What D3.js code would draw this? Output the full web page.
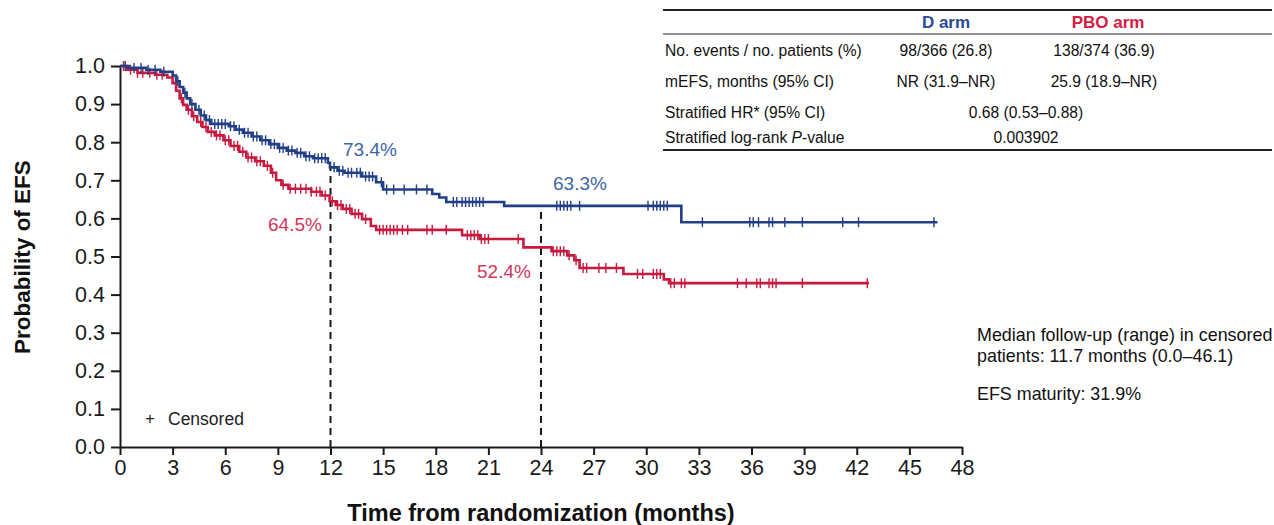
<!DOCTYPE html>
<html><head><meta charset="utf-8">
<script src="https://cdn.jsdelivr.net/npm/d3@7"></script>
<style>
html,body{margin:0;padding:0;background:#fff;}
text{font-family:"Liberation Sans",Arial,Helvetica,sans-serif;}
</style></head>
<body><svg id="c" width="1274" height="525"></svg>
<script>
// ---------- data ----------
const xTickValues = [0,3,6,9,12,15,18,21,24,27,30,33,36,39,42,45,48];
const yTickValues = [0,0.1,0.2,0.3,0.4,0.5,0.6,0.7,0.8,0.9,1.0];

// D arm: [time (months), survival after step]
const dSteps = [[0,1.0],[0.5,0.995],[1.5,0.99],[2.3,0.985],[3.0,0.975],[3.2,0.96],[3.4,0.945],[3.6,0.93],[3.8,0.915],
  [4.0,0.90],[4.3,0.885],[4.6,0.87],[4.9,0.858],[5.2,0.848],[6.2,0.842],[6.6,0.833],[7.0,0.825],[7.5,0.815],[8.0,0.805],
  [8.5,0.795],[9.0,0.785],[9.5,0.778],[10.0,0.772],[10.5,0.763],[11.0,0.758],[11.85,0.746],[11.97,0.734],[12.4,0.725],
  [12.8,0.72],[13.8,0.71],[14.6,0.695],[15.0,0.676],[17.8,0.664],[18.2,0.655],[18.6,0.643],[21.9,0.633],[32.0,0.59]];
const dEnd = 46.6;
const dCensor = [0.3,0.8,1.2,1.6,2.0,2.5,3.3,3.7,4.1,4.5,4.8,5.1,5.4,5.6,5.8,6.0,6.3,6.5,6.8,7.1,7.3,7.6,7.8,8.1,8.3,
  8.6,8.8,9.1,9.3,9.6,9.8,10.1,10.3,10.6,10.8,11.1,11.3,11.5,11.7,12.2,12.5,12.7,13.0,13.2,13.5,13.7,14.0,14.2,14.4,
  14.9,15.2,15.6,16.2,16.9,17.5,19.0,19.2,19.5,19.7,19.9,20.1,20.3,20.5,20.7,24.9,25.1,25.3,25.5,25.7,26.2,30.1,30.4,
  30.6,30.8,31.0,31.2,33.2,35.9,36.1,36.4,37.0,37.2,37.9,38.9,41.2,42.1,46.4];

// PBO arm
const pSteps = [[0,1.0],[0.4,0.99],[1.0,0.982],[2.0,0.977],[2.7,0.97],[3.0,0.955],[3.2,0.935],[3.4,0.915],[3.6,0.898],
  [3.8,0.885],[4.1,0.868],[4.4,0.853],[4.7,0.84],[5.0,0.827],[5.4,0.818],[5.9,0.805],[6.3,0.79],[6.8,0.775],[7.2,0.76],
  [7.7,0.75],[8.2,0.738],[8.6,0.72],[8.9,0.70],[9.2,0.688],[9.6,0.678],[10.9,0.670],[11.5,0.660],[11.95,0.645],[12.3,0.635],
  [12.7,0.625],[13.2,0.612],[13.8,0.598],[14.3,0.58],[14.6,0.57],[19.5,0.556],[20.5,0.546],[23.0,0.524],[24.6,0.514],
  [25.5,0.503],[25.9,0.49],[26.2,0.47],[28.7,0.454],[31.0,0.44],[31.3,0.43]];
const pEnd = 42.7;
const pCensor = [0.2,0.6,1.0,1.3,1.7,2.1,2.4,3.5,3.9,4.2,4.6,4.9,5.2,5.5,5.7,6.0,6.2,6.5,6.7,7.0,7.3,7.5,7.8,8.0,8.4,
  8.7,9.3,9.7,10.0,10.3,10.6,10.9,11.2,11.4,11.7,12.1,12.4,12.6,12.9,13.1,13.4,13.6,14.0,14.8,15.0,15.2,15.4,15.6,15.8,
  16.1,16.4,17.5,17.8,18.6,19.8,20.0,20.2,20.4,20.6,20.8,21.0,22.7,24.7,24.9,25.1,25.3,25.6,26.0,26.4,26.6,27.3,27.7,
  28.3,29.5,29.8,30.4,30.6,30.8,31.4,31.6,32.0,32.2,35.2,35.7,36.3,36.5,37.0,37.2,37.4,38.9,42.6];

const landmarks = [12, 24];
const landmarkLabels = {d:["73.4%","63.3%"], p:["64.5%","52.4%"]};

const tableHeader = ["", "D arm", "PBO arm"];
const tableRows = [
  ["No. events / no. patients (%)", "98/366 (26.8)", "138/374 (36.9)"],
  ["mEFS, months (95% CI)", "NR (31.9–NR)", "25.9 (18.9–NR)"],
  ["Stratified HR* (95% CI)", "0.68 (0.53–0.88)"],
  ["Stratified log-rank P-value", "0.003902"]
];
const notes = ["Median follow-up (range) in censored", "patients: 11.7 months (0.0–46.1)", "EFS maturity: 31.9%"];

// ---------- drawing ----------
const colD = "#213f86", colP = "#c8193f";
const txtD = "#3f64aa", txtP = "#d2365c";
const svg = d3.select("#c");
const x = d3.scaleLinear().domain([0,48]).range([120,962]);
const y = d3.scaleLinear().domain([0,1]).range([447,66]);

function sAt(steps, t){ let v = steps[0][1]; for(const s of steps){ if(s[0] <= t) v = s[1]; } return v; }

// axes
const yAx = svg.append("g").attr("transform","translate(120,0)")
  .call(d3.axisLeft(y).tickValues(yTickValues).tickFormat(d3.format(".1f")).tickSizeOuter(0).tickSizeInner(9).tickPadding(6));
const xAx = svg.append("g").attr("transform","translate(0,447)")
  .call(d3.axisBottom(x).tickValues(xTickValues).tickSizeOuter(0).tickSizeInner(8).tickPadding(5));
[yAx,xAx].forEach(g=>{
  g.selectAll("path.domain").attr("stroke","#1a1a1a").attr("stroke-width",2);
  g.selectAll(".tick line").attr("stroke","#1a1a1a").attr("stroke-width",2);
  g.selectAll(".tick text").attr("fill","#1a1a1a").style("font-size","21.5px").style("font-family","'Liberation Sans',Arial,sans-serif");
});

svg.append("text").attr("x",541).attr("y",521).attr("text-anchor","middle")
  .style("font-size","23.5px").style("font-weight","bold").attr("fill","#111").text("Time from randomization (months)");
svg.append("text").attr("transform","translate(30,257) rotate(-90)").attr("text-anchor","middle")
  .style("font-size","22.5px").style("font-weight","bold").attr("fill","#111").text("Probability of EFS");

// dashed landmark lines
landmarks.forEach(t=>{
  svg.append("line").attr("x1",x(t)).attr("x2",x(t)).attr("y1",y(0)).attr("y2",y(sAt(dSteps,t)))
    .attr("stroke","#1a1a1a").attr("stroke-width",2).attr("stroke-dasharray","7,5");
});

const line = d3.line().x(d=>x(d[0])).y(d=>y(d[1])).curve(d3.curveStepAfter);
function drawArm(steps, end, cens, col){
  const pts = steps.concat([[end, steps[steps.length-1][1]]]);
  svg.append("path").attr("d", line(pts)).attr("fill","none").attr("stroke",col).attr("stroke-width",2.6);
  svg.append("g").selectAll("line").data(cens).join("line")
    .attr("x1",d=>x(d)).attr("x2",d=>x(d))
    .attr("y1",d=>y(sAt(steps,d))-5).attr("y2",d=>y(sAt(steps,d))+5)
    .attr("stroke",col).attr("stroke-width",1.4);
}
drawArm(pSteps, pEnd, pCensor, colP);
drawArm(dSteps, dEnd, dCensor, colD);

// landmark labels
const lab = (txt,col,xx,yy)=>svg.append("text").attr("x",xx).attr("y",yy).attr("fill",col).style("font-size","19px").text(txt);
lab(landmarkLabels.d[0], txtD, 343, 156);
lab(landmarkLabels.d[1], txtD, 553, 190);
lab(landmarkLabels.p[0], txtP, 268, 231);
lab(landmarkLabels.p[1], txtP, 477, 278);

// legend
svg.append("text").attr("x",150).attr("y",424).attr("text-anchor","middle").style("font-size","17px").attr("fill","#222").text("+");
svg.append("text").attr("x",168).attr("y",425).style("font-size","17.5px").attr("fill","#222").text("Censored");

// table
const tx0 = 663, tx1 = 1272, c1 = 946, c2 = 1104, cMid = 1026;
const fsL = "15.6px", fsV = "15.6px";
svg.append("line").attr("x1",tx0).attr("x2",tx1).attr("y1",10).attr("y2",10).attr("stroke","#222").attr("stroke-width",2);
svg.append("line").attr("x1",tx0).attr("x2",tx1).attr("y1",34).attr("y2",34).attr("stroke","#222").attr("stroke-width",1.2);
svg.append("line").attr("x1",tx0).attr("x2",tx1).attr("y1",150).attr("y2",150).attr("stroke","#222").attr("stroke-width",2);
svg.append("text").attr("x",c1).attr("y",28).attr("text-anchor","middle").style("font-size","17px").style("font-weight","bold").attr("fill","#2b4b93").text(tableHeader[1]);
svg.append("text").attr("x",c2+4).attr("y",28).attr("text-anchor","middle").style("font-size","17px").style("font-weight","bold").attr("fill","#d41c44").text(tableHeader[2]);
const rowY = [56, 87, 118, 143];
tableRows.forEach((r,i)=>{
  const t = svg.append("text").attr("x",665).attr("y",rowY[i]).style("font-size",fsL).attr("fill","#111");
  if(r[0].includes("P-value")){
    t.append("tspan").text("Stratified log-rank ");
    t.append("tspan").style("font-style","italic").text("P");
    t.append("tspan").text("-value");
  } else t.text(r[0]);
  if(r.length===3){
    svg.append("text").attr("x",c1).attr("y",rowY[i]).attr("text-anchor","middle").style("font-size",fsV).attr("fill","#111").text(r[1]);
    svg.append("text").attr("x",c2).attr("y",rowY[i]).attr("text-anchor","middle").style("font-size",fsV).attr("fill","#111").text(r[2]);
  } else {
    svg.append("text").attr("x",cMid).attr("y",rowY[i]).attr("text-anchor","middle").style("font-size",fsV).attr("fill","#111").text(r[1]);
  }
});

// notes
const noteY = [341, 362, 400];
notes.forEach((n,i)=>svg.append("text").attr("x",977).attr("y",noteY[i]).style("font-size","17.9px").attr("fill","#111").text(n));
</script></body></html>
